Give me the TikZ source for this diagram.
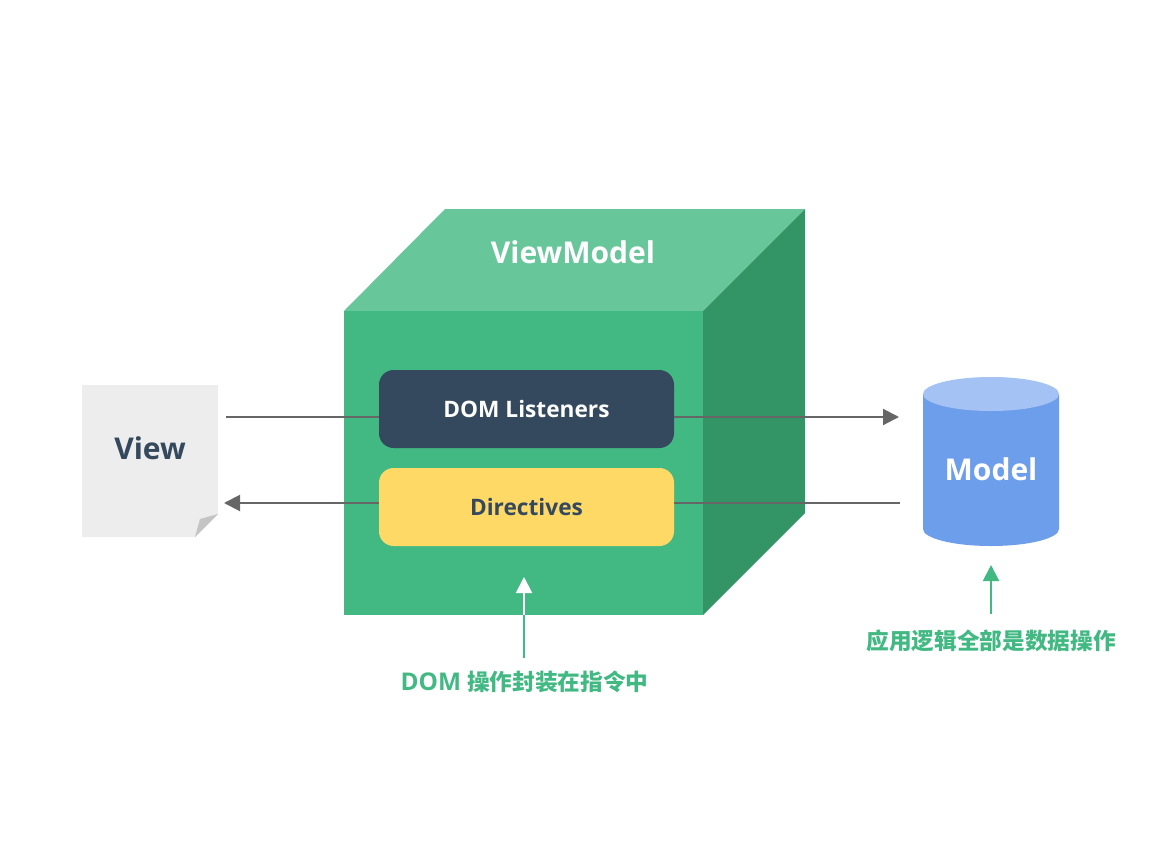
\documentclass[tikz,border=0pt]{standalone}
\usepackage{fontspec}
\setmainfont{Open Sans}
\newfontfamily\cjk{Noto Sans CJK SC}
\usetikzlibrary{positioning, arrows.meta}
\definecolor{vuegreen}{HTML}{42B983}
\definecolor{vuetop}{HTML}{68C69B}
\definecolor{vueside}{HTML}{339566}
\definecolor{vuedark}{HTML}{35495E}
\definecolor{vueyellow}{HTML}{FFD966}
\definecolor{modelblue}{HTML}{6D9EEB}
\definecolor{modeltop}{HTML}{A4C2F4}
\definecolor{linegray}{HTML}{666666}
\begin{document}
\begin{tikzpicture}[
    x=0.75pt, y=-0.75pt,
    box/.style={rectangle, minimum width=221.25pt, minimum height=58.5pt, rounded corners=11pt, font=\fontsize{17}{20}\selectfont\bfseries},
    title/.style={font=\fontsize{22.5}{27}\selectfont\bfseries},
    note/.style={text=vuegreen, font=\fontsize{17}{21}\selectfont\bfseries},
    wire/.style={draw=linegray, line width=1.5pt},
    tip/.style={-{Triangle[length=12pt, width=12pt]}}
]
    \useasboundingbox (0, 0) rectangle (1160, 867);

    % Cube
    \fill[vuetop] (344, 311) -- (445, 209) -- (805, 209) -- (703, 311) -- cycle;
    \fill[vueside] (703, 311) -- (805, 209) -- (805, 513) -- (703, 615) -- cycle;
    \node[rectangle, fill=vuegreen, minimum width=269.25pt, minimum height=228pt, inner sep=0pt] (front) at (523.5, 463) {};
    \node[title, text=white] (vm) at (573, 252) {ViewModel};

    % Inner boxes
    \node[box, fill=vuedark, text=white] (dom) at (526.5, 409) {DOM Listeners};
    \node[box, fill=vueyellow, text=vuedark] (dir) at (526.5, 507) {Directives};

    % View page
    \fill[black!7] (82, 385) -- (218, 385) -- (218, 514) -- (195, 537) -- (82, 537) -- cycle;
    \fill[black!23] (218, 514) -- (200, 519) -- (195, 537) -- cycle;
    \node[title, text=vuedark] (view) at (150, 448) {View};

    % Model cylinder
    \fill[modelblue] (923, 394) -- (923, 529) arc[start angle=180, end angle=360, x radius=68, y radius=-17] -- (1059, 394) -- cycle;
    \fill[modeltop] (991, 394) ellipse[x radius=68, y radius=17];
    \node[title, text=white] (model) at (991, 469) {Model};

    % Wires
    \coordinate (viewout) at (226, 417);
    \coordinate (modelin) at (899, 417);
    \coordinate (modelout) at (900, 503);
    \coordinate (viewin) at (224, 503);
    \draw[wire] (viewout) -- (viewout -| dom.west);
    \draw[wire, tip] (modelin -| dom.east) -- (modelin);
    \draw[wire] (modelout) -- (modelout -| dir.east);
    \draw[wire, tip] (viewin -| dir.west) -- (viewin);

    % Notes
    \node[note] (domnote) at (524.5, 682) {{\fontsize{18.3}{21}\selectfont DOM} {\cjk 操作封装在指令中}};
    \node[note, font=\fontsize{17}{21}\selectfont\bfseries\cjk] (logicnote) at (991, 641) {应用逻辑全部是数据操作};
    \coordinate (domtail) at (524, 658);
    \coordinate (domhead) at (524, 577);
    \coordinate (logictail) at (991, 614);
    \coordinate (logichead) at (991, 565);
    \draw[line width=1.5pt, vuegreen] (domtail) -- (domtail |- front.south);
    \draw[line width=1.5pt, white, tip] (domtail |- front.south) -- (domhead);
    \draw[line width=1.5pt, vuegreen, tip] (logictail) -- (logichead);
\end{tikzpicture}
\end{document}
